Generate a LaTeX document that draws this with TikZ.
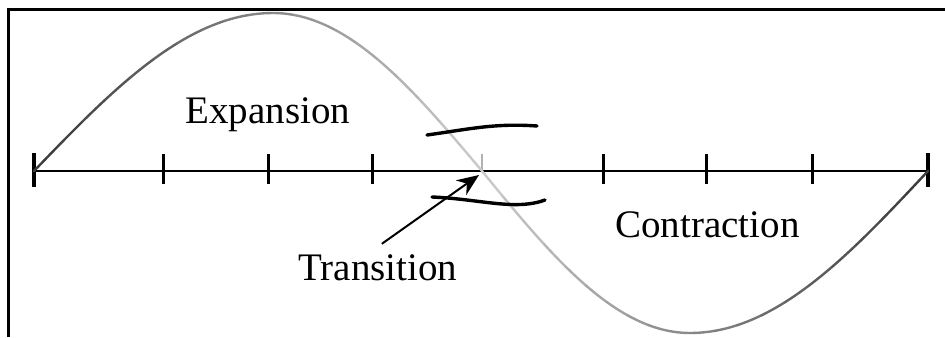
\documentclass[tikz,border=0pt]{standalone}
\usepackage{fontspec}
\setmainfont{Liberation Serif}
\usetikzlibrary{positioning, arrows.meta, calc}

\begin{document}
\begin{tikzpicture}[
        x=0.5pt, y=-0.5pt,
        >=Stealth,
        axtick/.style={line width=1.5pt},
        endtick/.style={line width=2pt},
        phase/.style={font=\fontsize{19.5}{23}\selectfont, anchor=base west, inner sep=0pt},
        stroke/.style={line width=1.7pt, line cap=round}
    ]
        \useasboundingbox (0,0) rectangle (945,337);
        \draw[line width=1.5pt] (8,337) -- (8,9) -- (945,9);

        % time axis
        \coordinate (left)  at (34,171);
        \coordinate (right) at (928,171);
        \coordinate (mid)   at (482,171);
        \draw[line width=1.4pt] (left) -- (right);
        \foreach \x in {163,268,372,603,706,812}
            \draw[axtick] (\x,154) -- (\x,184);
        \draw[endtick] (left)  ++(0,-18) -- ++(0,34);
        \draw[endtick] (right) ++(0,-18) -- ++(0,34);
        \draw[gray!60, line width=1.2pt] (mid) ++(0,-17) -- (mid);

        % wave by quarters, lighter towards the crossing
        \foreach \xa/\xb/\ph/\amp in {34/273/0/158, 273/482/90/158, 482/690/180/162, 690/928/270/162}
            \foreach \j in {0,...,9} {
                \pgfmathsetmacro{\ua}{\j/10}
                \pgfmathsetmacro{\ub}{(\j+1)/10}
                \pgfmathtruncatemacro{\dk}{20+0.13*abs(\xa+(\xb-\xa)*(\j+0.5)/10-481)}
                \draw[black!\dk, line width=1.2pt, line cap=round]
                    plot[domain=\ua:\ub, samples=6, variable=\u]
                    ({\xa+(\xb-\xa)*\u}, {171-\amp*sin(\ph+90*\u)});
            }

        % hand drawn marks
        \draw[stroke] (427,135) .. controls (470,129) and (495,123) .. (537,126);
        \draw[stroke] (432,197) .. controls (480,199) and (515,211) .. (545,200);

        \node[phase] (exp)   at (185,123) {Expansion};
        \node[phase] (con)   at (615,237) {Contraction};
        \node[phase] (trans) at (298,280) {Transition};

        \coordinate (tip) at (479,175);
        \draw[->, line width=1pt, >={Stealth[length=11pt, width=9pt]}]
            ([xshift=2pt, yshift=5pt]trans.north) -- (tip);
    \end{tikzpicture}
\end{document}
